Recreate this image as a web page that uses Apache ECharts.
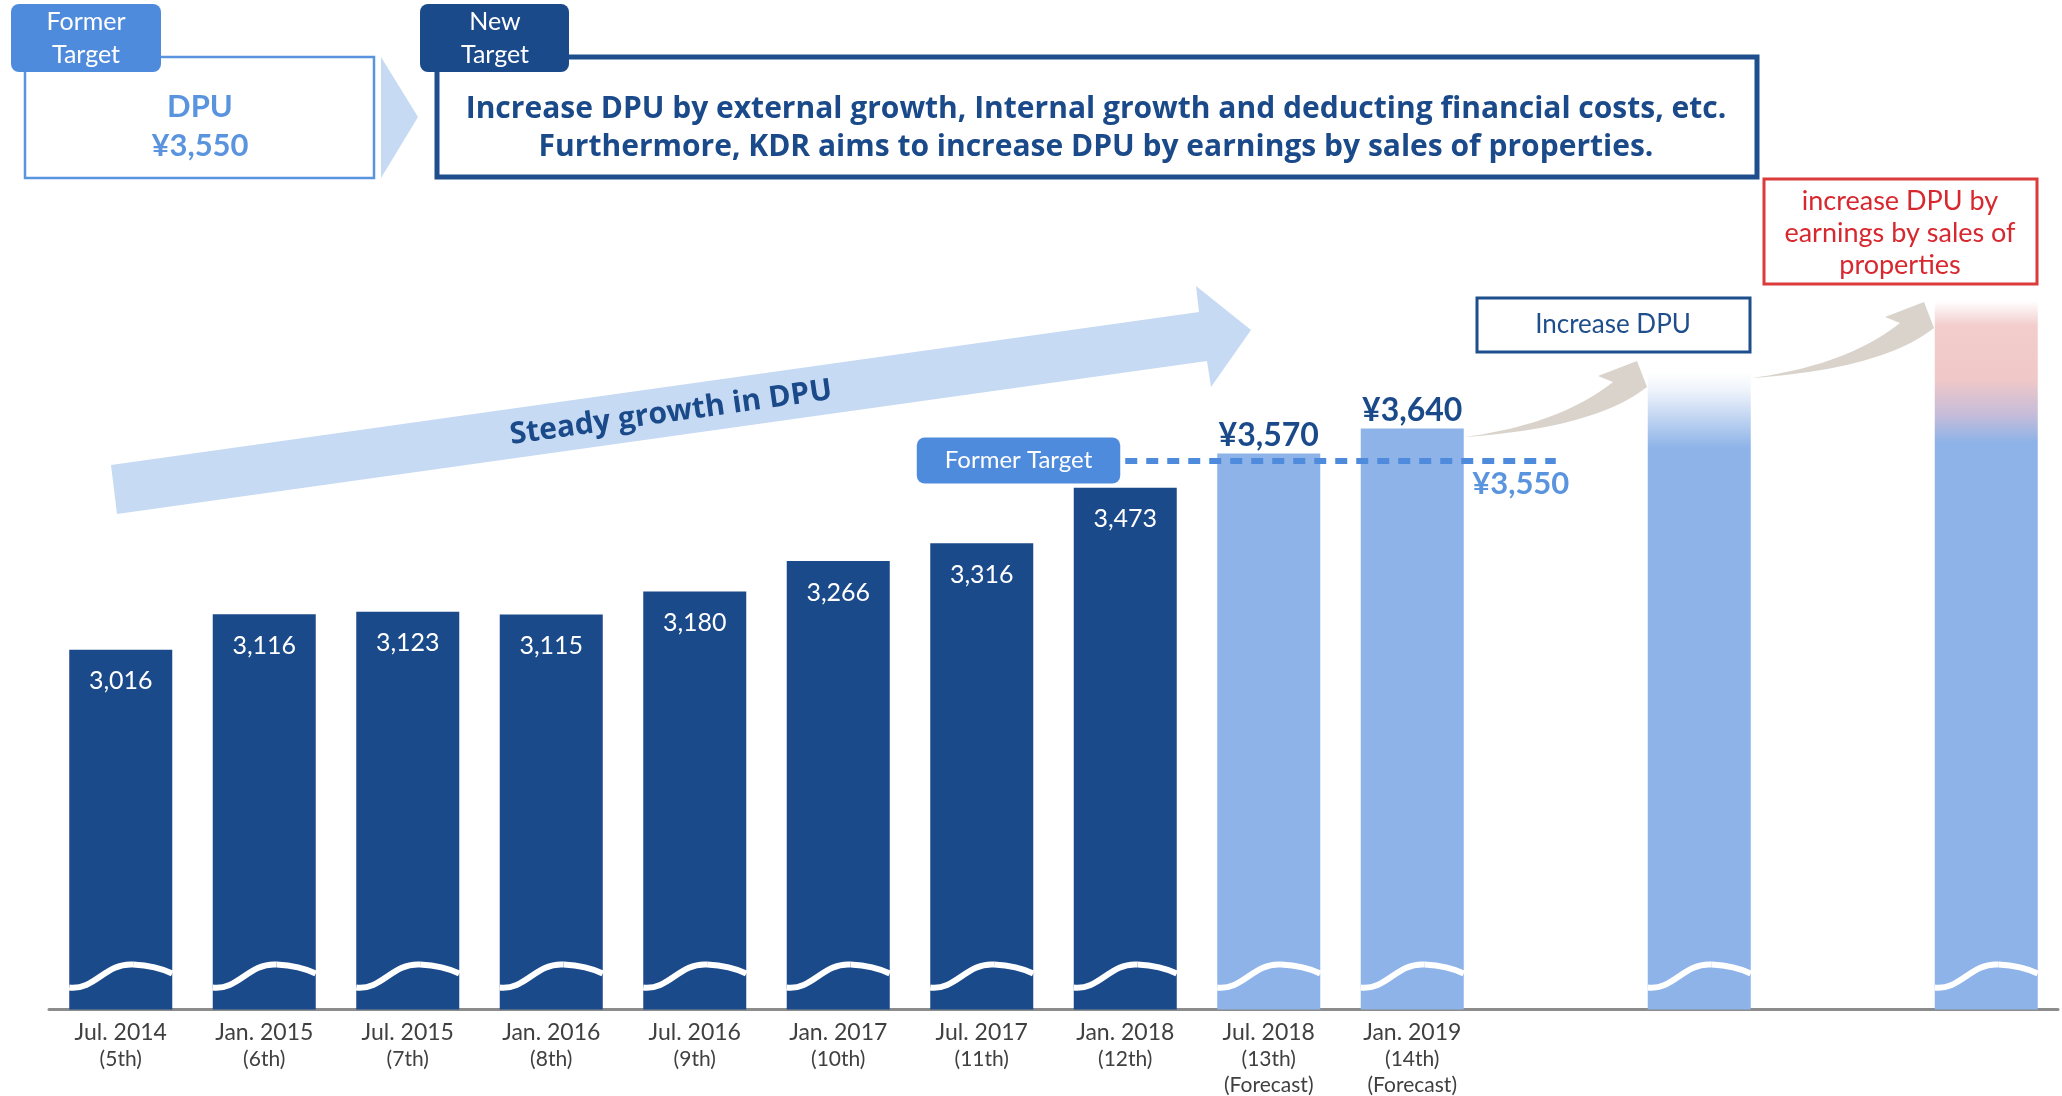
<!DOCTYPE html>
<html>
<head>
<meta charset="utf-8">
<script src="https://cdn.jsdelivr.net/npm/echarts@6/dist/echarts.min.js"></script>
<style>
html,body{margin:0;padding:0;background:#fff;}
#chart{width:2062px;height:1096px;}
</style>
</head>
<body>
<div id="chart"></div>
<script>
// ---- data ----
const categories = ['Jul. 2014','Jan. 2015','Jul. 2015','Jan. 2016','Jul. 2016','Jan. 2017','Jul. 2017','Jan. 2018','Jul. 2018','Jan. 2019','','','',''];
const periods = ['(5th)','(6th)','(7th)','(8th)','(9th)','(10th)','(11th)','(12th)','(13th)','(14th)','','','',''];
const notes = ['','','','','','','','','(Forecast)','(Forecast)','','','',''];
const dpu = [3016,3116,3123,3115,3180,3266,3316,3473,3570,3640,null,3800,null,4000];
const status = ['actual','actual','actual','actual','actual','actual','actual','actual','forecast','forecast',null,'growth',null,'sales'];
const formerTarget = 3550;
const formerTargetFrom = 7;
const formerTargetTo = 10;
const axisMin = 2000;
const axisMax = 4500;

// ---- styling ----
const NAVY = '#1b4a8a';
const LIGHT = '#8db3e8';
const MID = '#4f8bdc';
const FONT = 'Lato';
const BAR_W = 103;

function fmt(v){ return v.toLocaleString('en-US'); }

function barColor(s){
  if (s === 'actual') return NAVY;
  if (s === 'forecast') return LIGHT;
  if (s === 'growth') return new echarts.graphic.LinearGradient(0,0,0,1,[
    {offset:0,color:'#ffffff'},{offset:0.03,color:'#eef3fb'},{offset:0.07,color:'#c3d6f2'},
    {offset:0.12,color:LIGHT},{offset:1,color:LIGHT}]);
  if (s === 'sales') return new echarts.graphic.LinearGradient(0,0,0,1,[
    {offset:0,color:'#ffffff'},{offset:0.035,color:'#f3cccc'},{offset:0.11,color:'#f0c8c8'},
    {offset:0.16,color:'#c6bcd9'},{offset:0.2,color:LIGHT},{offset:1,color:LIGHT}]);
  return LIGHT;
}
function barLabel(s, v){
  if (s === 'actual') return {show:true, position:'insideTop', distance:19, color:'#fff', fontSize:25, fontFamily:FONT, formatter: fmt(v)};
  if (s === 'forecast') return {show:true, position:'top', distance:2, color:NAVY, fontSize:32, fontWeight:'bold', fontFamily:FONT, formatter: '¥' + fmt(v)};
  return {show:false};
}

const barData = dpu.map((v,i) => v == null ? null : {value:v, itemStyle:{color:barColor(status[i])}, label:barLabel(status[i], v)});
const waveData = [];
dpu.forEach((v,i) => { if (v != null) waveData.push([i, v]); });

// ---- decorative shapes ----
function quad(p0,c,p1,n){
  const pts=[];
  for(let k=0;k<=n;k++){
    const t=k/n, u=1-t;
    pts.push([u*u*p0[0]+2*u*t*c[0]+t*t*p1[0], u*u*p0[1]+2*u*t*c[1]+t*t*p1[1]]);
  }
  return pts;
}
function curvedArrow(dx,dy){
  const lower = quad([1465,437],[1595,428],[1647,387],24);
  const head = [[1637,361],[1598,376],[1613,382]];
  const upper = quad([1613,382],[1560,424],[1465,437],24);
  return lower.concat(head, upper.slice(1)).map(p=>[p[0]+dx,p[1]+dy]);
}
function txt(x,y,text,font,fill,extra){
  return Object.assign({type:'text', x:x, y:y, z:10, silent:true,
    style:{text:text, font:font, fill:fill, align:'center', verticalAlign:'middle'}}, extra||{});
}

const graphics = [
  // former target box
  {type:'rect', z:5, shape:{x:25,y:57,width:349,height:121}, style:{fill:'#fff', stroke:'#5a94de', lineWidth:2.5}},
  {type:'rect', z:6, shape:{x:11,y:4,width:150,height:68,r:8}, style:{fill:MID}},
  txt(86,22,'Former','25px '+FONT,'#fff'),
  txt(86,55,'Target','25px '+FONT,'#fff'),
  txt(200,107,'DPU','bold 31px '+FONT,'#5a94de'),
  txt(200,146,'¥3,550','bold 31px '+FONT,'#5a94de'),
  {type:'polygon', z:5, shape:{points:[[381,57],[418,117],[381,178]]}, style:{fill:'#c6daf3'}},
  // new target box
  {type:'rect', z:5, shape:{x:437,y:57,width:1320,height:120}, style:{fill:'#fff', stroke:'#1f4e8c', lineWidth:5}},
  {type:'rect', z:6, shape:{x:420,y:4,width:149,height:68,r:8}, style:{fill:NAVY}},
  txt(495,22,'New','25px '+FONT,'#fff'),
  txt(495,55,'Target','25px '+FONT,'#fff'),
  txt(1096,109,'Increase DPU by external growth, Internal growth and deducting financial costs, etc.','bold 30px "Open Sans"',NAVY),
  txt(1096,147,'Furthermore, KDR aims to increase DPU by earnings by sales of properties.','bold 30px "Open Sans"',NAVY),
  // big growth arrow
  {type:'polygon', z:1, shape:{points:[[111,465],[1199,312],[1196,286],[1251,330],[1211,387],[1207,361],[117,514]]}, style:{fill:'#c6daf3'}},
  txt(671,413,'Steady growth in DPU','bold 30px "Open Sans"',NAVY,{rotation:8*Math.PI/180}),
  // curved arrows
  {type:'polygon', z:4, shape:{points:curvedArrow(0,0)}, style:{fill:'#d9d3cc'}},
  {type:'polygon', z:4, shape:{points:curvedArrow(287,-59)}, style:{fill:'#d9d3cc'}},
  // increase DPU box
  {type:'rect', z:5, shape:{x:1477,y:298,width:273,height:54}, style:{fill:'#fff', stroke:'#1f4e8c', lineWidth:3}},
  txt(1613,325,'Increase DPU','26px '+FONT,'#1f4e8c'),
  // red box
  {type:'rect', z:5, shape:{x:1764,y:179,width:273,height:105}, style:{fill:'#fff', stroke:'#dc3b3b', lineWidth:3}},
  txt(1900,201,'increase DPU by','27px '+FONT,'#d7282f'),
  txt(1900,233,'earnings by sales of','27px '+FONT,'#d7282f'),
  txt(1900,265,'properties','27px '+FONT,'#d7282f')
];

const chart = echarts.init(document.getElementById('chart'), null, {renderer:'canvas'});
chart.setOption({
  animation:false,
  backgroundColor:'#fff',
  grid:{left:49, right:4, top:124, bottom:86},
  xAxis:{
    type:'category', data:categories,
    axisLine:{lineStyle:{color:'#8c8c8c', width:3}},
    axisTick:{show:false},
    axisLabel:{
      interval:0, margin:9,
      formatter:function(v, i){
        if (!categories[i]) return '';
        let s = '{a|' + categories[i] + '}';
        if (periods[i]) s += '\n{b|' + periods[i] + '}';
        if (notes[i]) s += '\n{b|' + notes[i] + '}';
        return s;
      },
      rich:{
        a:{fontSize:23, lineHeight:28, color:'#404040', fontFamily:FONT},
        b:{fontSize:21, lineHeight:26, color:'#404040', fontFamily:FONT}
      }
    }
  },
  yAxis:{type:'value', min:axisMin, max:axisMax, show:false, splitLine:{show:false}},
  series:[
    {
      type:'bar', barWidth:BAR_W, data:barData, z:2,
      markLine:{
        silent:true, symbol:['none','none'], z:6,
        lineStyle:{color:MID, width:6, type:[12,9], cap:'butt'},
        label:{show:true, position:'start', distance:5, formatter:'Former Target',
          color:'#fff', fontSize:24, fontFamily:FONT, backgroundColor:MID,
          borderRadius:8, padding:[10,28], lineHeight:26},
        data:[[{coord:[formerTargetFrom, formerTarget]},{coord:[formerTargetTo, formerTarget]}]]
      },
      markPoint:{
        silent:true, symbol:'circle', symbolSize:0,
        label:{show:true, position:'inside', offset:[-35,24], formatter:'¥' + fmt(formerTarget),
          color:'#5a94de', fontSize:31, fontWeight:'bold', fontFamily:FONT},
        data:[{coord:[formerTargetTo, formerTarget]}]
      }
    },
    {
      type:'custom', z:3, silent:true, data:waveData, encode:{x:0, y:1},
      renderItem:function(params, api){
        const idx = api.value(0);
        const base = api.coord([idx, axisMin]);
        const w = BAR_W, L = base[0] - w/2, B = base[1];
        return {type:'group', children:[
          {type:'bezierCurve', shape:{x1:L, y1:B-22, cpx1:L+0.25*w, cpy1:B-19, cpx2:L+0.35*w, cpy2:B-47, x2:L+0.62*w, y2:B-45},
            style:{stroke:'#fff', lineWidth:6, fill:null}},
          {type:'bezierCurve', shape:{x1:L+0.62*w, y1:B-45, cpx1:L+0.8*w, cpy1:B-44, cpx2:L+0.9*w, cpy2:B-41, x2:L+w, y2:B-36},
            style:{stroke:'#fff', lineWidth:6, fill:null}}
        ]};
      }
    }
  ],
  graphic:graphics
});
</script>
</body>
</html>
